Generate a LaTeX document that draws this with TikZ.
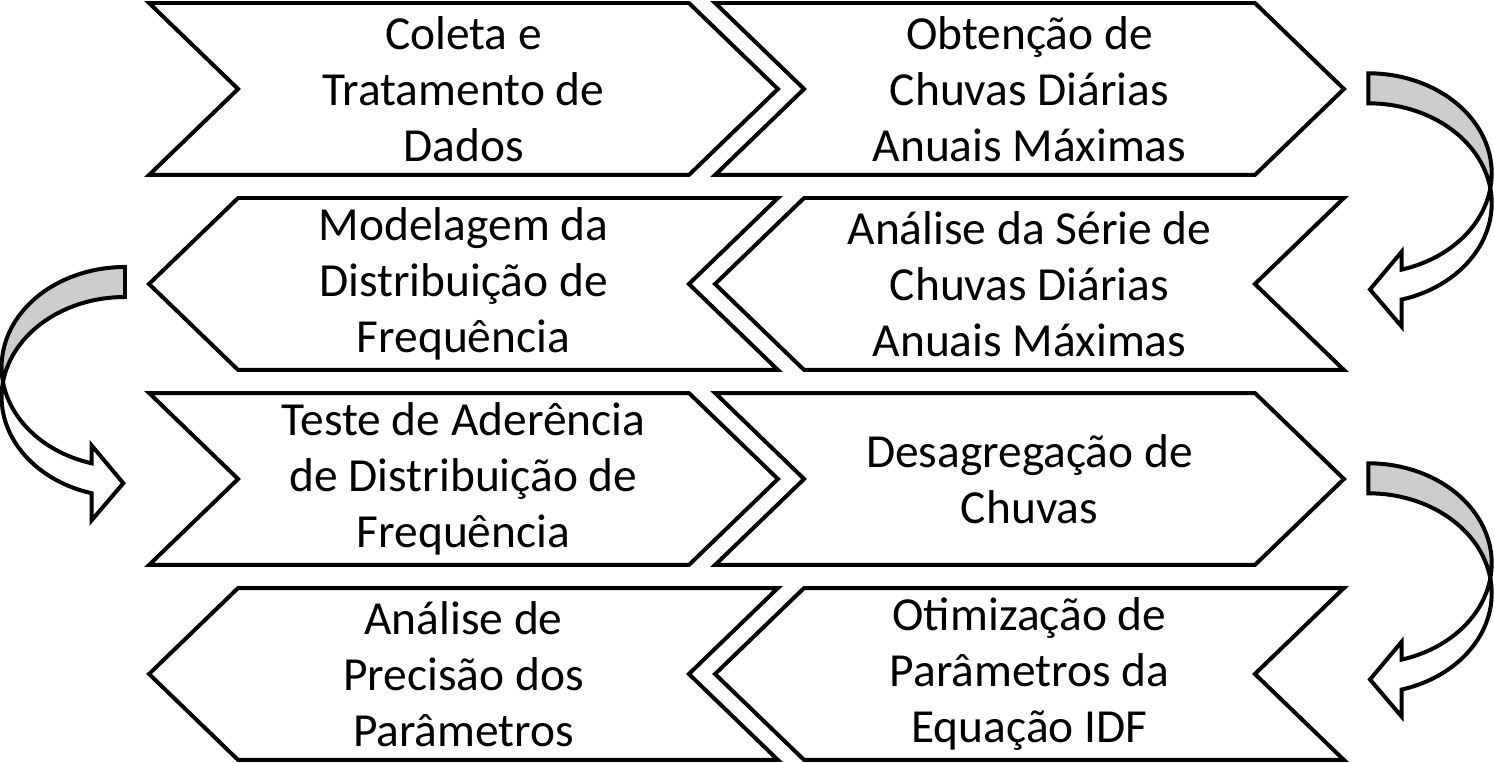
\documentclass[tikz,border=0pt]{standalone}
\usepackage{fontspec}
\setmainfont{Carlito}
\usetikzlibrary{shapes.symbols}
\definecolor{arrowgray}{RGB}{204,204,204}

\tikzset{
  stepbox/.style={signal, draw=black, fill=white, line width=2.27pt,
    minimum width=12.58cm, minimum height=3.44cm, inner sep=0pt, outer sep=0pt,
    signal pointer angle=88, align=center,
    font=\fontsize{27pt}{32pt}\selectfont},
  stepright/.style={stepbox, signal from=west, signal to=east},
  stepleft/.style={stepbox, signal from=east, signal to=west},
  bendarrow/.pic={
    \filldraw[fill=arrowgray, line width=2.27pt]
      (0,100) arc[start angle=90, end angle=-8.63, x radius=123.4, y radius=100]
      arc[start angle=8.63, end angle=90, x radius=123.4, y radius=100] -- cycle;
    \filldraw[fill=white, line width=2.27pt]
      (122,-15) arc[start angle=8.63, end angle=-74.3, x radius=123.4, y radius=100]
      -- (33.4,-153.4) -- (1.7,-116.2) -- (33.4,-78.4) -- (33.4,-96.3)
      arc[start angle=-74.3, end angle=-8.63, x radius=123.4, y radius=100] -- cycle;
  }
}

\begin{document}
\begin{tikzpicture}[x=0.02cm, y=0.02cm]
  \useasboundingbox (0,0) rectangle (1494,763);

  % linha 1
  \node[stepright] (coleta) at (463.5,674) {Coleta e\\Tratamento de\\Dados};
  \node[stepright] (obtencao) at (1029.5,674) {Obtenção de\\Chuvas Diárias\\Anuais Máximas};
  % linha 2
  \node[stepleft] (modelagem) at (463.5,479) {Modelagem da\\Distribuição de\\Frequência};
  \node[stepleft] (analiseserie) at (1029.5,479) {Análise da Série de\\Chuvas Diárias\\Anuais Máximas};
  % linha 3
  \node[stepright] (teste) at (463.5,284) {Teste de Aderência\\de Distribuição de\\Frequência};
  \node[stepright] (desagreg) at (1029.5,284) {Desagregação de\\Chuvas};
  % linha 4
  \node[stepleft] (precisao) at (463.5,89) {Análise de\\Precisão dos\\Parâmetros};
  \node[stepleft] (otimiz) at (1029.5,89) {Otimização de\\Parâmetros da\\Equação IDF};

  % setas curvas
  \pic at (1368.3,589.7) {bendarrow};
  \pic at (1368.3,199.7) {bendarrow};
  \pic[xscale=-1] at (125,396) {bendarrow};
\end{tikzpicture}
\end{document}
